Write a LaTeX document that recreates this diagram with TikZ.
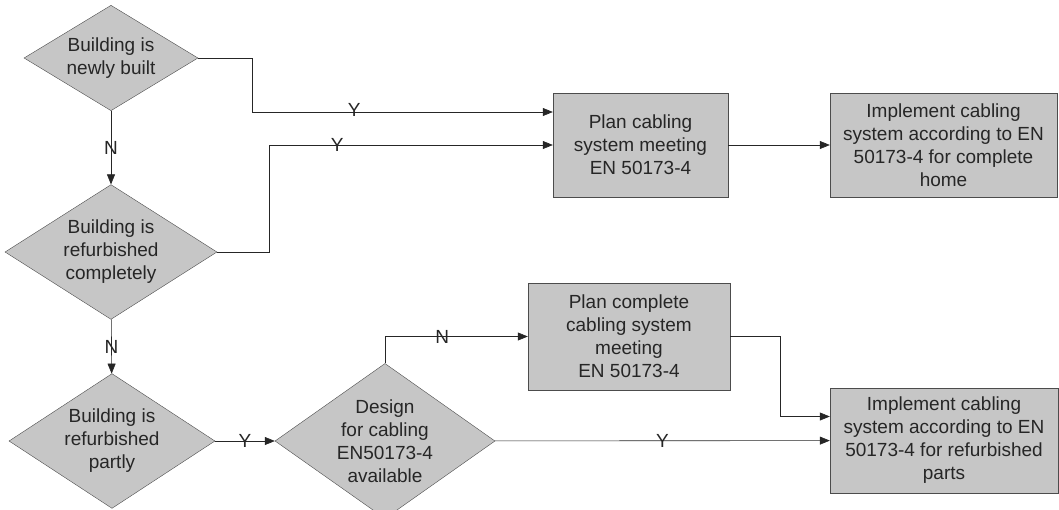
\documentclass[tikz,border=0pt]{standalone}
\usepackage{fontspec}
\setmainfont{Liberation Sans}
\usetikzlibrary{shapes.geometric,arrows.meta}
\newcommand{\taille}{\fontsize{19}{23}\selectfont}
\newcommand{\question}[5]{\node[losange,minimum width=#3,minimum height=#4] (#1) at (#2) {#5}}
\newcommand{\tache}[5]{\node[boite,minimum width=#3,minimum height=#4] (#1) at (#2) {#5}}

\begin{document}
\begin{tikzpicture}[x=1pt,y=-1pt,
	losange/.style={diamond,draw=gray!60!black,fill=gray!45,inner sep=-6pt,
		align=center,font=\taille,text=black!85},
	boite/.style={rectangle,draw=gray!60!black,fill=gray!45,inner sep=0pt,
		align=center,font=\taille,text=black!85},
	fleche/.style={draw=gray!30!black,semithick,-{Triangle[length=10pt,width=8pt]}},
	etiq/.style={font=\taille,text=black!85,inner sep=1pt}]
	\useasboundingbox (0,0) rectangle (1059,509);
	% decisions
	\question{neuf}{111,58}{174pt}{104pt}{Building is\\newly built};
	\question{complet}{111,252}{212pt}{120pt}{Building is\\refurbished\\completely};
	\question{partiel}{112,441}{206pt}{116pt}{Building is\\refurbished\\partly};
	\question{design}{385,441}{220pt}{140pt}{Design\\for cabling\\EN50173-4\\available};
	% actions
	\tache{plan}{640.5,145}{175pt}{104pt}{Plan cabling\\system meeting\\EN 50173-4};
	\tache{maison}{943.5,145}{227pt}{104pt}{Implement cabling\\system according to EN\\50173-4 for complete\\home};
	\tache{plancomp}{629,336.5}{202pt}{107pt}{Plan complete\\cabling system\\meeting\\EN 50173-4};
	\tache{parties}{944,440.5}{228pt}{105pt}{Implement cabling\\system according to EN\\50173-4 for refurbished\\parts};
	% liens
	\draw[fleche] (neuf.east) -- (252,58) |- node[etiq,pos=0.67,yshift=2pt]{Y} ([yshift=33pt]plan.west);
	\draw[fleche] (complet.east) -- ++(52,0) |- node[etiq,pos=0.62]{Y} (plan.west);
	\draw[fleche] (plan) -- (maison);
	\draw[fleche] (neuf) -- node[etiq]{N} (complet);
	\draw[fleche] (complet) -- node[etiq]{N} (partiel);
	\draw[fleche] (partiel) -- node[etiq]{Y} (design);
	\draw[fleche] (design.north) |- node[etiq,pos=0.7]{N} (plancomp.west);
	\draw[fleche] (design) -- node[etiq]{Y} (parties);
	\draw[fleche] (plancomp.east) -- ++(50,0) |- ([yshift=24pt]parties.west);
\end{tikzpicture}
\end{document}
